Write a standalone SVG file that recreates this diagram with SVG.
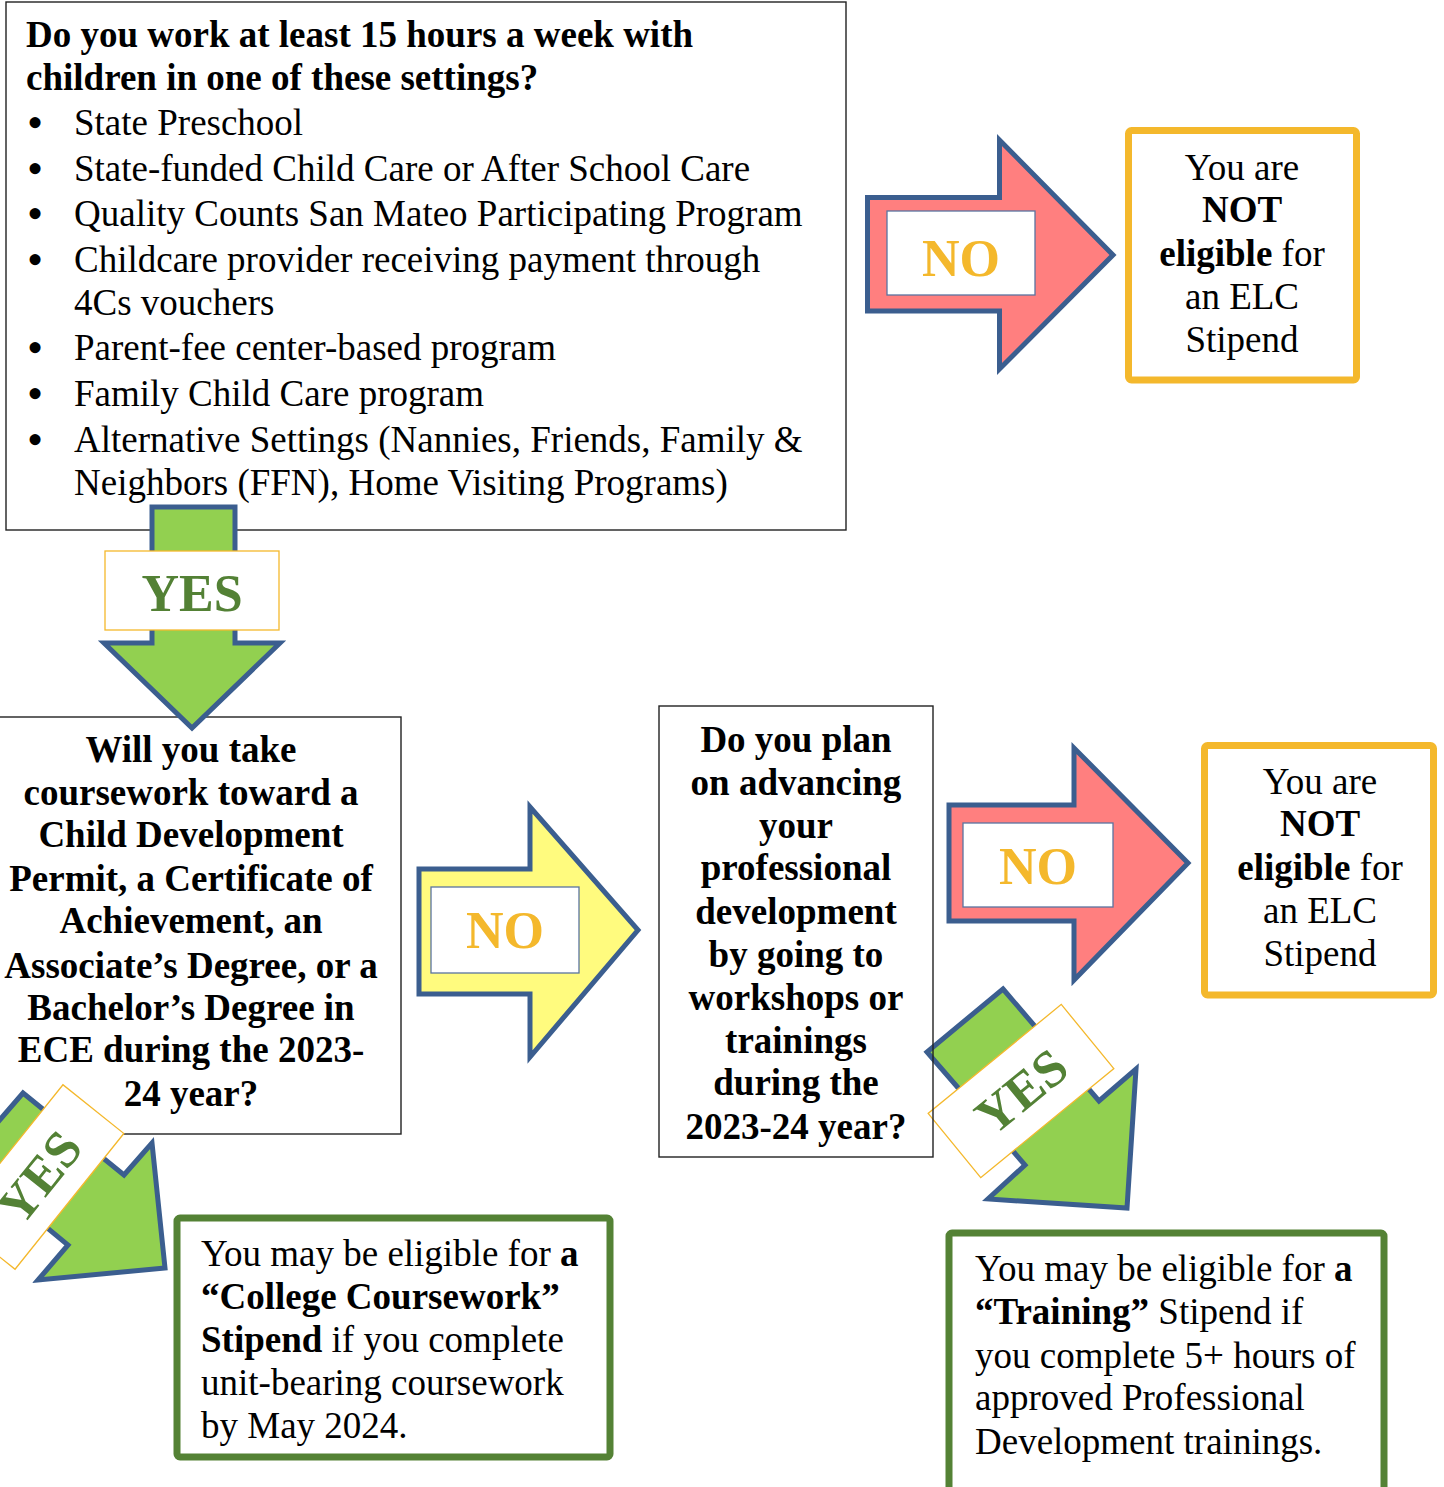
<svg xmlns="http://www.w3.org/2000/svg" width="1444" height="1487" viewBox="0 0 1444 1487">
<style>
text{font-family:"Liberation Serif","Times New Roman",serif;fill:#000}
.t{font-size:37px}
.b{font-weight:bold}
.c{text-anchor:middle}
.bu{font-size:46px}
.box{fill:#fff;stroke:#222;stroke-width:1.4}
.obox{fill:#fff;stroke:#F4B82C;stroke-width:7}
.gbox{fill:#fff;stroke:#548235;stroke-width:7}
.arr{stroke:#3B5E8F;stroke-width:5;stroke-linejoin:miter}
.red{fill:#FF7F7F}
.yel{fill:#FFFB7E}
.grn{fill:#92D050}
.nol{fill:#fff;stroke:#5A73A0;stroke-width:1.3}
.yesl{fill:#fff;stroke:#F4B82C;stroke-width:1.3}
.no{font-size:52px;font-weight:bold;fill:#F4B82C;text-anchor:middle}
.yes{font-size:52px;font-weight:bold;fill:#538135;text-anchor:middle}
</style>

<g id="q1">
<rect class="box" x="6" y="2" width="840" height="528"/>
<text class="t b" x="26" y="47">Do you work at least 15 hours a week with</text>
<text class="t b" x="26" y="90">children in one of these settings?</text>
<g class="t">
<text class="bu" x="27" y="138">•</text><text x="74" y="135">State Preschool</text>
<text class="bu" x="27" y="184">•</text><text x="74" y="181">State-funded Child Care or After School Care</text>
<text class="bu" x="27" y="229">•</text><text x="74" y="226">Quality Counts San Mateo Participating Program</text>
<text class="bu" x="27" y="275">•</text><text x="74" y="272">Childcare provider receiving payment through</text>
<text x="74" y="315">4Cs vouchers</text>
<text class="bu" x="27" y="363">•</text><text x="74" y="360">Parent-fee center-based program</text>
<text class="bu" x="27" y="409">•</text><text x="74" y="406">Family Child Care program</text>
<text class="bu" x="27" y="455">•</text><text x="74" y="452">Alternative Settings (Nannies, Friends, Family &amp;</text>
<text x="74" y="495">Neighbors (FFN), Home Visiting Programs)</text>
</g>
</g>

<g id="q2">
<rect class="box" x="-2" y="717" width="403" height="417"/>
<g class="t b c">
<text x="191" y="762">Will you take</text>
<text x="191" y="805">coursework toward a</text>
<text x="191" y="847">Child Development</text>
<text x="191" y="891">Permit, a Certificate of</text>
<text x="191" y="933">Achievement, an</text>
<text x="191" y="978">Associate’s Degree, or a</text>
<text x="191" y="1020">Bachelor’s Degree in</text>
<text x="191" y="1062">ECE during the 2023-</text>
<text x="191" y="1106">24 year?</text>
</g>
</g>

<g id="r1">
<rect class="obox" x="1128.5" y="130.5" width="228" height="249.5" rx="3"/>
<g class="t c">
<text x="1242" y="180">You are</text>
<text x="1242" y="222" class="b">NOT</text>
<text x="1242" y="266"><tspan class="b">eligible</tspan> for</text>
<text x="1242" y="309">an ELC</text>
<text x="1242" y="352">Stipend</text>
</g>
</g>

<g id="r2">
<rect class="obox" x="1204.5" y="745.5" width="229" height="249.5" rx="3"/>
<g class="t c">
<text x="1320" y="794">You are</text>
<text x="1320" y="836" class="b">NOT</text>
<text x="1320" y="880"><tspan class="b">eligible</tspan> for</text>
<text x="1320" y="923">an ELC</text>
<text x="1320" y="966">Stipend</text>
</g>
</g>

<g id="r3">
<rect class="gbox" x="177" y="1218" width="433" height="239" rx="3"/>
<g class="t">
<text x="201" y="1266">You may be eligible for <tspan class="b">a</tspan></text>
<text x="201" y="1309" class="b">“College Coursework”</text>
<text x="201" y="1352"><tspan class="b">Stipend</tspan> if you complete</text>
<text x="201" y="1395">unit-bearing coursework</text>
<text x="201" y="1438">by May 2024.</text>
</g>
</g>

<g id="r4">
<rect class="gbox" x="949" y="1233" width="435" height="280" rx="3"/>
<g class="t">
<text x="975" y="1281">You may be eligible for <tspan class="b">a</tspan></text>
<text x="975" y="1324"><tspan class="b">“Training”</tspan> Stipend if</text>
<text x="975" y="1368">you complete 5+ hours of</text>
<text x="975" y="1410">approved Professional</text>
<text x="975" y="1454">Development trainings.</text>
</g>
</g>

<g id="connectors">
<g id="no1">
<polygon class="arr red" points="867.5,197.5 999.5,197.5 999.5,140 1113,255 999.5,369 999.5,311 867.5,311"/>
<rect class="nol" x="887" y="211" width="148" height="84"/>
<text class="no" x="961" y="276">NO</text>
</g>
<g id="yes1">
<polygon class="arr grn" points="152,507 235,507 235,643 280,643 192,728 104,643 152,643"/>
<rect class="yesl" x="105" y="551" width="174" height="79"/>
<text class="yes" x="192" y="611">YES</text>
</g>
<g id="no2">
<polygon class="arr yel" points="419,869 530,869 530,807 638,930 530,1057 530,994 419,994"/>
<rect class="nol" x="431" y="887" width="148" height="86"/>
<text class="no" x="505" y="948">NO</text>
</g>
<g id="no3">
<polygon class="arr red" points="949,805 1074,805 1074,748 1188,863 1074,980 1074,921 949,921"/>
<rect class="nol" x="963" y="823" width="150" height="84"/>
<text class="no" x="1038" y="884">NO</text>
</g>
<g id="yes2">
<polygon class="arr grn" points="23,1093 124,1175 152,1143 165,1268 38,1280 68,1245 -35,1160"/>
<g transform="translate(39,1177) rotate(-51.3)">
<rect class="yesl" x="-87" y="-39" width="174" height="78"/>
<text class="yes" x="0" y="18">YES</text>
</g>
</g>
<g id="yes3">
<polygon class="arr grn" points="1003,989 1099,1101 1136,1069 1127,1208 988,1199 1025,1165 927,1052"/>
<g transform="translate(1021,1091) rotate(-39.3)">
<rect class="yesl" x="-86" y="-41.5" width="172" height="83"/>
<text class="yes" x="0" y="18">YES</text>
</g>
</g>
</g>

<g id="q3">
<rect x="659" y="706" width="274" height="451" fill="none" stroke="#222" stroke-width="1.4"/>
<g class="t b c">
<text x="796" y="752">Do you plan</text>
<text x="796" y="795">on advancing</text>
<text x="796" y="838">your</text>
<text x="796" y="880">professional</text>
<text x="796" y="924">development</text>
<text x="796" y="967">by going to</text>
<text x="796" y="1010">workshops or</text>
<text x="796" y="1053">trainings</text>
<text x="796" y="1095">during the</text>
<text x="796" y="1139">2023-24 year?</text>
</g>
</g>
</svg>
